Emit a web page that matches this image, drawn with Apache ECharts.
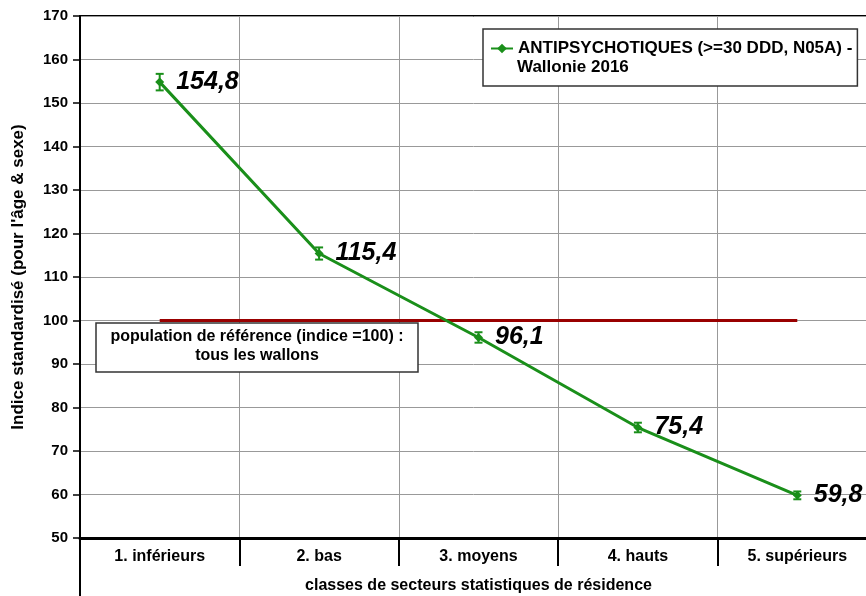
<!DOCTYPE html>
<html><head><meta charset="utf-8">
<script src="https://cdn.jsdelivr.net/npm/echarts@6/dist/echarts.min.js"></script>
<style>html,body{margin:0;padding:0;background:#fff}#c{width:866px;height:596px}</style>
</head><body><div id="c"></div>
<script>
const categories = ['1. inférieurs', '2. bas', '3. moyens', '4. hauts', '5. supérieurs'];
const values = [154.8, 115.4, 96.1, 75.4, 59.8];
const errors = [1.9, 1.4, 1.2, 1.1, 0.9];
const reference = [100, 100, 100, 100, 100];
const yTicks = {min: 50, max: 170, interval: 10};
const seriesName = 'ANTIPSYCHOTIQUES (>=30 DDD, N05A) -';
const seriesName2 = 'Wallonie 2016';
const refText = 'population de référence (indice =100) :\ntous les wallons';

const green = '#1a8f1a';
const FONT = 'Liberation Sans, Arial, sans-serif';
const chart = echarts.init(document.getElementById('c'));
const G = {left: 80, top: 16, right: -11, bottom: 58};

chart.setOption({
  animation: false,
  textStyle: {fontFamily: FONT},
  grid: {left: G.left, top: G.top, right: G.right, bottom: G.bottom, outerBoundsMode: 'none', containLabel: false,
    show: true, borderColor: '#000', borderWidth: 2, backgroundColor: 'transparent'},
  legend: {
    show: true, left: 483, top: 29, orient: 'vertical',
    padding: [11, 5, 29, 7], borderColor: '#333', borderWidth: 1.5, backgroundColor: '#fff',
    itemWidth: 22, itemHeight: 12,
    data: [{name: seriesName}],
    textStyle: {fontFamily: FONT, fontSize: 17, fontWeight: 'bold', color: '#000'}
  },
  xAxis: {
    type: 'category', data: categories, boundaryGap: true,
    axisLine: {lineStyle: {color: '#000', width: 3}},
    axisTick: {show: true, interval: 0, length: 28, lineStyle: {color: '#000', width: 2}},
    splitLine: {show: true, interval: 0, lineStyle: {color: '#999', width: 1}},
    axisLabel: {interval: 0, margin: 11, fontSize: 16, fontWeight: 'bold', color: '#000', fontFamily: FONT},
    name: 'classes de secteurs statistiques de résidence', nameLocation: 'middle', nameGap: 40,
    nameTextStyle: {fontSize: 16, fontWeight: 'bold', color: '#000', fontFamily: FONT}
  },
  yAxis: {
    type: 'value', min: yTicks.min, max: yTicks.max, interval: yTicks.interval,
    axisLine: {show: true, lineStyle: {color: '#000', width: 2}},
    axisTick: {show: true, length: 7, lineStyle: {color: '#000', width: 1.5}},
    splitLine: {show: true, lineStyle: {color: '#999', width: 1}},
    axisLabel: {margin: 12, fontSize: 15, fontWeight: 'bold', color: '#000', fontFamily: FONT},
    name: "Indice standardisé (pour l'âge & sexe)", nameLocation: 'middle', nameGap: 53, nameRotate: 90,
    nameTextStyle: {fontSize: 17, fontWeight: 'bold', color: '#000', fontFamily: FONT}
  },
  series: [
    {
      name: 'ref', type: 'line', data: reference, symbol: 'none', silent: true,
      lineStyle: {color: '#990000', width: 3}, z: 2
    },
    {
      name: seriesName, type: 'line', data: values, symbol: 'diamond', symbolSize: 9,
      itemStyle: {color: green}, lineStyle: {color: green, width: 3}, z: 4,
      label: {show: true, position: 'right', distance: 12, fontSize: 25, fontWeight: 'bold', fontStyle: 'italic', color: '#000', fontFamily: FONT,
        formatter: p => String(p.value).replace('.', ',')}
    },
    {
      name: 'err', type: 'custom', z: 5, silent: true,
      data: values.map((v, i) => [i, v - errors[i], v + errors[i]]),
      renderItem: (params, api) => {
        const lo = api.coord([api.value(0), api.value(1)]);
        const hi = api.coord([api.value(0), api.value(2)]);
        const w = 4;
        const st = {stroke: green, lineWidth: 2};
        return {type: 'group', children: [
          {type: 'line', shape: {x1: lo[0], y1: lo[1], x2: hi[0], y2: hi[1]}, style: st},
          {type: 'line', shape: {x1: lo[0] - w, y1: lo[1], x2: lo[0] + w, y2: lo[1]}, style: st},
          {type: 'line', shape: {x1: hi[0] - w, y1: hi[1], x2: hi[0] + w, y2: hi[1]}, style: st}
        ]};
      }
    }
  ],
  graphic: [
    {type: 'line', shape: {x1: G.left, y1: G.top, x2: G.left, y2: 596}, style: {stroke: '#000', lineWidth: 2}, z: 100},
    {type: 'text', x: 517, y: 67, z: 100, style: {text: seriesName2, fontSize: 17, fontWeight: 'bold', fill: '#000', fontFamily: FONT, verticalAlign: 'middle'}},
    {type: 'rect', shape: {x: 96, y: 323, width: 322, height: 49}, style: {fill: '#fff', stroke: '#333', lineWidth: 1.5}, z: 90},
    {type: 'text', x: 257, y: 346, z: 100, style: {text: refText, fontSize: 16, fontWeight: 'bold', fill: '#000', fontFamily: FONT, align: 'center', verticalAlign: 'middle', lineHeight: 19}}
  ]
});
</script></body></html>
